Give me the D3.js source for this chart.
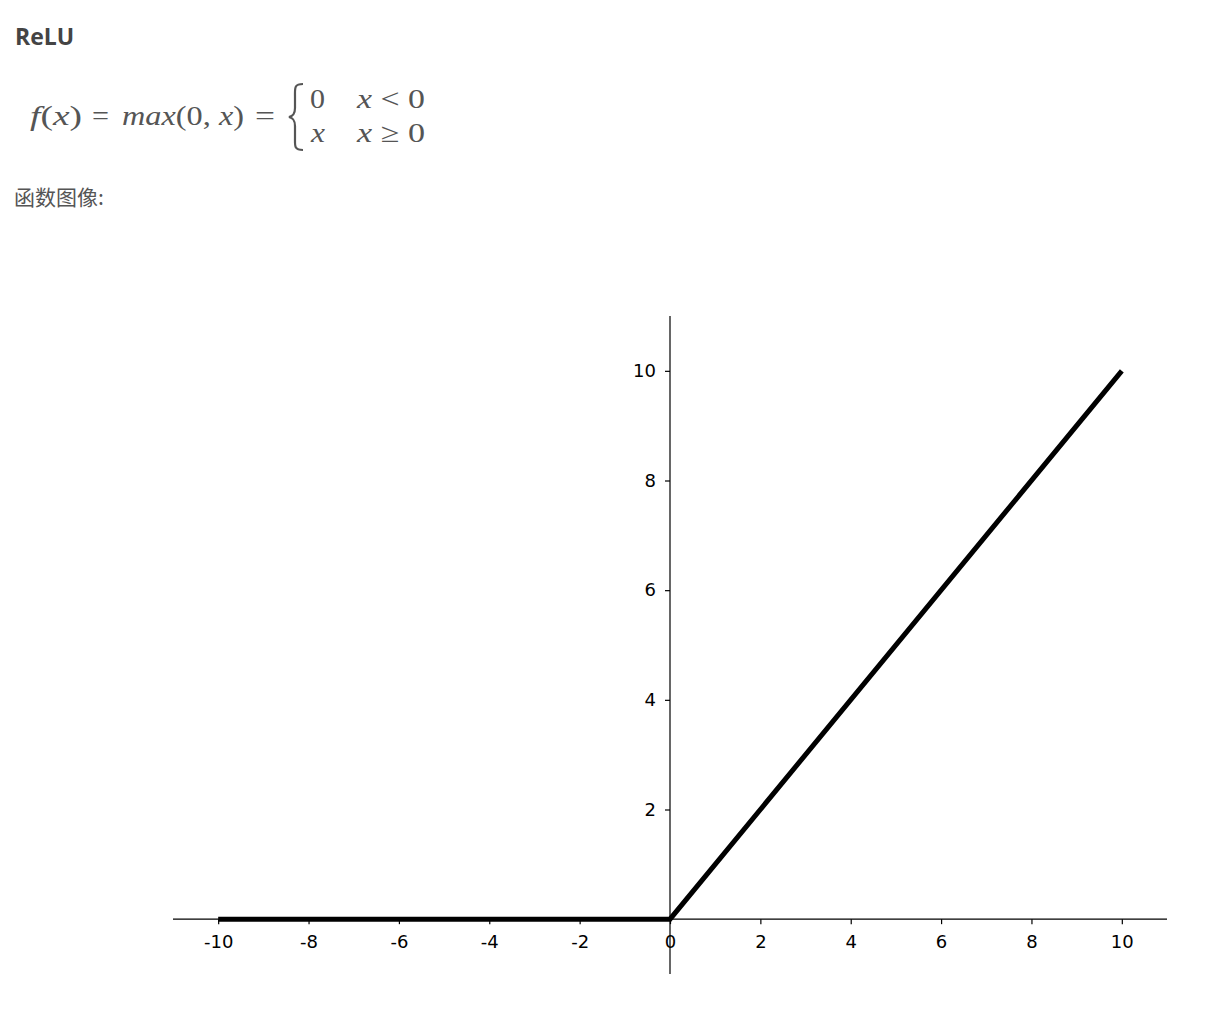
<!DOCTYPE html>
<html><head><meta charset="utf-8">
<script src="https://cdn.jsdelivr.net/npm/d3@7"></script>
<style>
body{margin:0;background:#fff;}
svg{display:block;}
</style></head>
<body>
<svg id="c" width="1230" height="1015"></svg>
<script>
const xValues = [-10, 0, 10];
const yValues = [0, 0, 10];
const xTicks = [-10, -8, -6, -4, -2, 0, 2, 4, 6, 8, 10];
const yTicks = [2, 4, 6, 8, 10];
const xDomain = [-11, 11];
const yDomain = [-1, 11];

const svg = d3.select("#c");

// Header
svg.append("text").attr("x", 15).attr("y", 45)
  .attr("font-family", "Open Sans, Noto Sans, sans-serif").attr("font-weight", "bold")
  .attr("font-size", 23).attr("fill", "#444").text("ReLU");

const fm = svg.append("g").attr("fill", "#555").attr("font-family", "Liberation Serif, DejaVu Serif, serif").attr("font-size", 27);
function tok(xp, yp, w, parts) {
  const t = fm.append("text").attr("x", xp).attr("y", yp).attr("xml:space", "preserve")
    .attr("textLength", w).attr("lengthAdjust", "spacingAndGlyphs");
  parts.forEach(([s, it]) => t.append("tspan").attr("font-style", it ? "italic" : "normal").text(s));
}
tok(30, 125, 52, [["f", 1], ["(", 0], ["x", 1], [")", 0]]);
tok(92, 125, 17, [["=", 0]]);
tok(122, 125, 122, [["max", 1], ["(0, ", 0], ["x", 1], [")", 0]]);
tok(255, 125, 20, [["=", 0]]);
// brace
fm.append("path").attr("fill", "none").attr("stroke", "#555").attr("stroke-width", 2.2)
  .attr("d", "M303,84 C294,84 295,88 295,96 L295,108 C295,114 293,116 289,117 C293,118 295,120 295,126 L295,138 C295,146 294,150 303,150");
tok(310, 108, 15, [["0", 0]]);
tok(311, 142, 14, [["x", 1]]);
tok(357, 108, 68, [["x", 1], [" < 0", 0]]);
tok(357, 142, 68, [["x", 1], [" \u2265 0", 0]]);

svg.append("text").attr("x", 14).attr("y", 205)
  .attr("font-family", "Noto Sans CJK SC, sans-serif").attr("font-size", 21).attr("fill", "#555").text("函数图像:");

// Chart
const x = d3.scaleLinear().domain(xDomain).range([173, 1167]);
const y = d3.scaleLinear().domain(yDomain).range([974, 316]);

const xAxis = d3.axisBottom(x).tickValues(xTicks).tickSize(5).tickPadding(11).tickFormat(d => String(d));
const yAxis = d3.axisLeft(y).tickValues(yTicks).tickSize(5).tickPadding(9).tickFormat(d => String(d));

const gx = svg.append("g").attr("transform", `translate(0,${y(0)})`).call(xAxis);
const gy = svg.append("g").attr("transform", `translate(${x(0)},0)`).call(yAxis);
[gx, gy].forEach(g => {
  g.attr("font-family", "DejaVu Sans, sans-serif").attr("font-size", 18);
  g.selectAll("text").attr("fill", "#000");
  g.select(".domain").attr("stroke", "#000").attr("stroke-width", 1.2);
  g.selectAll(".tick line").attr("stroke", "#000").attr("stroke-width", 1.2);
});
gx.select(".domain").attr("d", `M${x(xDomain[0])},0H${x(xDomain[1])}`);
gy.select(".domain").attr("d", `M0,${y(yDomain[0])}V${y(yDomain[1])}`);

const pts = xValues.map((v, i) => [v, yValues[i]]);
svg.append("path").datum(pts)
  .attr("fill", "none").attr("stroke", "#000").attr("stroke-width", 5)
  .attr("d", d3.line().x(d => x(d[0])).y(d => y(d[1])));
</script>
</body></html>
